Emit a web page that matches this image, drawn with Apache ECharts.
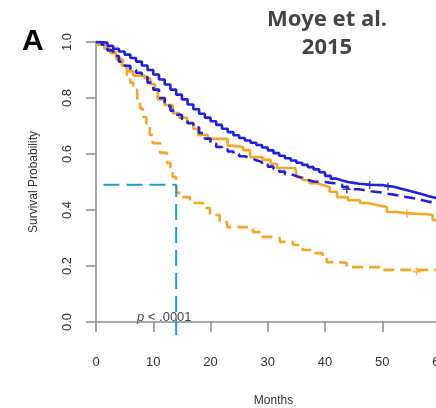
<!DOCTYPE html>
<html><head><meta charset="utf-8">
<script src="https://cdn.jsdelivr.net/npm/echarts@6/dist/echarts.min.js"></script>
<style>html,body{margin:0;padding:0;background:#fff}#c{width:436px;height:408px}</style>
</head><body><div id="c"></div>
<script>
// ---- data (months, survival probability) ----
const xTicks = [0, 10, 20, 30, 40, 50, 60];
const yTicks = [0.0, 0.2, 0.4, 0.6, 0.8, 1.0];
const blueSolid = [[0,1.0],[1,0.997],[2,0.986],[3,0.976],[4,0.966],[5,0.955],[6,0.943],[7,0.93],[8,0.916],[9,0.9],[10,0.884],[11,0.866],[12,0.848],[13,0.83],[14,0.812],[15,0.795],[16,0.777],[17,0.76],[18,0.744],[19,0.73],[20,0.717],[21,0.704],[22,0.69],[23,0.678],[24,0.667],[25,0.657],[26,0.648],[27,0.64],[28,0.632],[29,0.623],[30,0.613],[31,0.603],[32,0.594],[33,0.585],[34,0.577],[35,0.569],[36,0.561],[37,0.553],[38,0.545],[39,0.535],[40,0.522],[41,0.512],[42,0.505],[43,0.5],[44,0.497],[45,0.494],[46,0.492],[47,0.49],[48,0.489],[50,0.486],[51,0.483],[52,0.478],[53,0.472],[54,0.467],[55,0.462],[56,0.456],[57,0.45],[58,0.445],[59,0.44],[60,0.436],[62,0.43]];
const blueDashed = [[0,1.0],[1,0.99],[2,0.97],[3,0.95],[4,0.93],[5,0.915],[6,0.9],[7,0.89],[8,0.875],[9,0.855],[10,0.83],[11,0.8],[12,0.772],[13,0.755],[14,0.74],[15,0.725],[16,0.71],[17,0.695],[18,0.675],[19,0.655],[20,0.637],[21,0.625],[22,0.617],[23,0.609],[24,0.6],[25,0.592],[26,0.585],[27,0.578],[28,0.571],[29,0.563],[30,0.555],[31,0.546],[32,0.537],[33,0.528],[34,0.521],[35,0.514],[36,0.507],[37,0.502],[38,0.5],[40,0.497],[41,0.495],[42,0.49],[43,0.482],[44,0.474],[46,0.467],[48,0.462],[50,0.458],[51,0.455],[52,0.451],[53,0.447],[54,0.444],[55,0.44],[56,0.435],[57,0.43],[58,0.427],[59,0.425],[60,0.422],[62,0.42]];
const orangeSolid = [[0,0.99],[1.5,0.975],[2.5,0.96],[3.5,0.94],[4.5,0.915],[5.5,0.895],[6.5,0.88],[8.5,0.87],[9.5,0.85],[10.3,0.83],[10.8,0.795],[12,0.775],[13.4,0.746],[14.5,0.73],[15.9,0.711],[17,0.69],[17.8,0.668],[19.5,0.654],[23,0.63],[23.6,0.625],[25.7,0.614],[26.9,0.589],[29.1,0.579],[30.5,0.565],[31.6,0.55],[34.8,0.543],[35.1,0.518],[36.1,0.507],[37.3,0.496],[38.5,0.489],[39.6,0.482],[40.8,0.465],[42.1,0.446],[44,0.435],[46.1,0.425],[47.5,0.418],[49,0.411],[50.8,0.393],[52.5,0.389],[54,0.385],[57.8,0.382],[58.8,0.364],[59.3,0.357],[62,0.35]];
const orangeDashed = [[0,0.99],[1.5,0.975],[2.4,0.964],[3.7,0.936],[4.7,0.911],[5.4,0.882],[6,0.855],[6.5,0.829],[7.2,0.793],[7.7,0.762],[8.2,0.732],[8.8,0.7],[9.4,0.668],[9.9,0.639],[11.2,0.604],[12.4,0.568],[13,0.54],[13.4,0.518],[14,0.489],[14.1,0.461],[15.2,0.446],[16.4,0.425],[18.7,0.407],[19.9,0.382],[21.6,0.357],[22.9,0.339],[27.4,0.321],[28.6,0.304],[30.9,0.3],[32.1,0.286],[34.4,0.275],[36.1,0.257],[37.9,0.246],[39.6,0.232],[40.3,0.214],[42.1,0.211],[43.8,0.196],[50.1,0.186],[62,0.18]];
const censorBlueSolid = [[47.8,0.489],[51,0.484]];
const censorBlueDashed = [[43.8,0.474]];
const censorOrangeSolid = [[54.3,0.387]];
const censorOrangeDashed = [[56,0.18]];
const medianLine = [[1.3,0.49],[14,0.49],[14,-0.055]];
const pText = '.0001';

const BLUE = '#2020e0', ORANGE = '#f5a623', CYAN = '#1b9fd3', AXIS = '#8a8a8a';
const plus = 'path://M4,0h2v4h4v2h-4v4h-2v-4h-4v-2h4z';

function km(data, color, dashed) {
  return {type:'line', step:'end', data, symbol:'none', silent:true,
    lineStyle:{color, width:2.6, type: dashed ? [11,6] : 'solid'}, z: 3};
}
function cens(data, color) {
  return {type:'scatter', data, symbol:plus, symbolSize:8, itemStyle:{color}, silent:true, z:4};
}

const chart = echarts.init(document.getElementById('c'), null, {renderer:'canvas'});
chart.setOption({
  animation:false,
  grid:{left:96, top:42, width:355, height:280, containLabel:false, outerBoundsMode:'none'},
  xAxis:{type:'value', min:0, max:62, interval:10, offset:11,
    axisLine:{lineStyle:{color:AXIS, width:1.5}},
    axisTick:{length:10, lineStyle:{color:AXIS, width:1.5}},
    axisLabel:{color:'#333', fontSize:13, fontFamily:'Liberation Sans', margin:23, showMaxLabel:false,
      formatter: v => xTicks.includes(v) ? String(v) : ''},
    splitLine:{show:false},
    name:'Months', nameLocation:'middle', nameGap:62,
    nameTextStyle:{color:'#333', fontSize:12, fontFamily:'Liberation Sans'}},
  yAxis:{type:'value', min:0, max:1, interval:0.2,
    axisLine:{show:true, lineStyle:{color:AXIS, width:1.5}},
    axisTick:{show:true, length:10, lineStyle:{color:AXIS, width:1.5}},
    axisLabel:{color:'#333', fontSize:13, fontFamily:'Liberation Sans', rotate:90, margin:22,
      formatter: v => { const t = yTicks.find(k => Math.abs(k - v) < 1e-6); return t === undefined ? '' : t.toFixed(1); }},
    splitLine:{show:false},
    name:'Survival Probability', nameLocation:'middle', nameGap:56,
    nameTextStyle:{color:'#333', fontSize:12, fontFamily:'Liberation Sans'}},
  series:[
    km(orangeDashed, ORANGE, true),
    km(orangeSolid, ORANGE, false),
    km(blueDashed, BLUE, true),
    km(blueSolid, BLUE, false),
    {type:'line', data:medianLine, symbol:'none', clip:false, silent:true,
      lineStyle:{color:CYAN, width:2, type:[16,7]}, z:5},
    cens(censorBlueSolid, BLUE), cens(censorBlueDashed, BLUE),
    cens(censorOrangeSolid, ORANGE), cens(censorOrangeDashed, ORANGE)
  ],
  graphic:[
    {type:'text', x:22, y:27, style:{text:'A', font:'bold 30px "Liberation Sans"', fill:'#000'}},
    {type:'text', x:327, y:6, style:{text:'Moye et al.\n2015', font:'bold 22px "Noto Sans"', fill:'#444', align:'center', lineHeight:28}},
    {type:'text', x:137, y:311, style:{text:'{i|p} < ' + pText, font:'13px "Liberation Sans"', fill:'#444',
      rich:{i:{fontStyle:'italic', fontSize:13, fontFamily:'Liberation Sans', fill:'#444'}}}}
  ]
});
</script></body></html>
